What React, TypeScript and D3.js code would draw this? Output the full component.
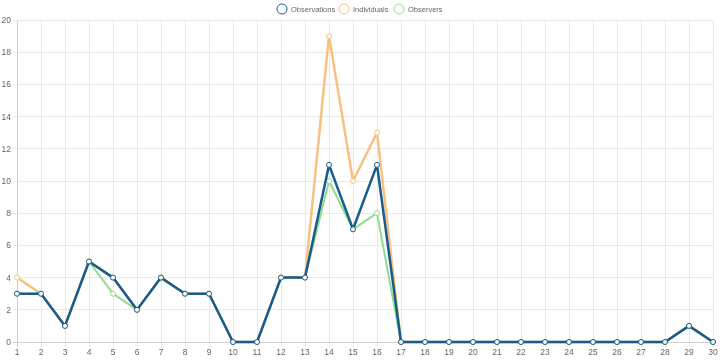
import { useEffect, useRef } from 'react';
import * as d3 from 'd3';

const days = d3.range(1, 31).map(String);
const observations = [3, 3, 1, 5, 4, 2, 4, 3, 3, 0, 0, 4, 4, 11, 7, 11, 0, 0, 0, 0, 0, 0, 0, 0, 0, 0, 0, 0, 1, 0];
const individuals = [4, 3, 1, 5, 4, 2, 4, 3, 3, 0, 0, 4, 4, 19, 10, 13, 0, 0, 0, 0, 0, 0, 0, 0, 0, 0, 0, 0, 1, 0];
const observers = [3, 3, 1, 5, 3, 2, 4, 3, 3, 0, 0, 4, 4, 10, 7, 8, 0, 0, 0, 0, 0, 0, 0, 0, 0, 0, 0, 0, 1, 0];
const yTicks = [0, 2, 4, 6, 8, 10, 12, 14, 16, 18, 20];

const series = [
  { label: 'Observations', values: observations, color: '#175c8c', width: 2.5 },
  { label: 'Individuals', values: individuals, color: '#f7c17f', width: 2.5 },
  { label: 'Observers', values: observers, color: '#90dc90', width: 2 },
];

const App = () => {
  const svgRef = useRef<SVGSVGElement>(null);

  useEffect(() => {
    const svg = d3.select(svgRef.current);
    svg.selectAll('*').remove();

    const width = 720;
    const height = 360;
    const font = 'Liberation Sans, Arial, sans-serif';

    const x = d3.scalePoint().domain(days).range([17, 713]);
    const y = d3.scaleLinear().domain([0, 20]).range([342, 20]);

    svg.attr('width', width).attr('height', height);

    // grid
    const grid = svg.append('g');
    grid
      .selectAll('.vg')
      .data(days)
      .enter()
      .append('line')
      .attr('x1', d => x(d)!)
      .attr('x2', d => x(d)!)
      .attr('y1', 20)
      .attr('y2', 347)
      .attr('stroke', d => (d === '1' ? '#d0d0d0' : '#e8e8e8'))
      .attr('stroke-width', 1)
      .attr('shape-rendering', 'crispEdges');
    grid
      .selectAll('.hg')
      .data(yTicks)
      .enter()
      .append('line')
      .attr('x1', 13)
      .attr('x2', 713)
      .attr('y1', d => y(d))
      .attr('y2', d => y(d))
      .attr('stroke', d => (d === 0 ? '#d0d0d0' : '#e8e8e8'))
      .attr('stroke-width', 1)
      .attr('shape-rendering', 'crispEdges');

    // tick labels
    svg
      .selectAll('.yl')
      .data(yTicks)
      .enter()
      .append('text')
      .attr('x', 11)
      .attr('y', d => y(d))
      .attr('dy', '0.35em')
      .attr('text-anchor', 'end')
      .style('font-family', font)
      .style('font-size', '8.5px')
      .style('fill', '#666')
      .text(d => d);
    svg
      .selectAll('.xl')
      .data(days)
      .enter()
      .append('text')
      .attr('x', d => x(d)!)
      .attr('y', 355)
      .attr('text-anchor', 'middle')
      .style('font-family', font)
      .style('font-size', '8.5px')
      .style('fill', '#666')
      .text(d => d);

    const line = d3
      .line<number>()
      .x((_, i) => x(days[i])!)
      .y(d => y(d));

    // draw last dataset first so Observations sits on top
    [...series].reverse().forEach(s => {
      const g = svg.append('g');
      g.append('path')
        .attr('d', line(s.values))
        .attr('fill', 'none')
        .attr('stroke', s.color)
        .attr('stroke-width', s.width)
        .attr('stroke-linejoin', 'round');
      g.selectAll('circle')
        .data(s.values)
        .enter()
        .append('circle')
        .attr('cx', (_, i) => x(days[i])!)
        .attr('cy', d => y(d))
        .attr('r', 2.5)
        .attr('fill', '#fff')
        .attr('stroke', s.color)
        .attr('stroke-width', 1);
    });

    // legend
    const legendX = [282, 344, 399];
    const legend = svg
      .selectAll('.legend')
      .data(series)
      .enter()
      .append('g')
      .attr('transform', (_, i) => `translate(${legendX[i]}, 9)`);
    legend
      .append('circle')
      .attr('r', 5)
      .attr('fill', 'none')
      .attr('stroke', d => d.color)
      .attr('stroke-width', 1);
    legend
      .append('text')
      .attr('x', 9)
      .attr('dy', '0.35em')
      .style('font-family', font)
      .style('font-size', '7.5px')
      .style('fill', '#666')
      .text(d => d.label);
  }, []);

  return (
    <div style={{ position: 'fixed', left: 0, top: 0 }}>
      <svg ref={svgRef} style={{ display: 'block' }}></svg>
    </div>
  );
};

export default App;
